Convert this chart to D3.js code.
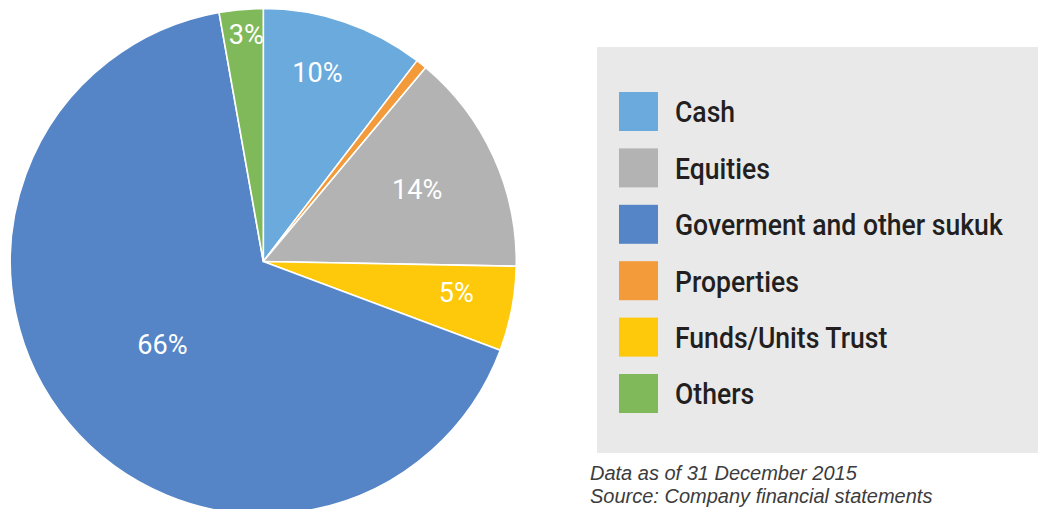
<!DOCTYPE html>
<html>
<head>
<meta charset="utf-8">
<script src="https://cdn.jsdelivr.net/npm/d3@7"></script>
<style>
  html, body { margin: 0; padding: 0; background: #ffffff; }
  svg { display: block; }
</style>
</head>
<body>
<svg id="chart" width="1038" height="509"></svg>
<script>
// ---- data ----
const sliceNames = ["Cash", "Properties", "Equities", "Funds/Units Trust", "Goverment and other sukuk", "Others"];
const sliceValues = [10.4, 0.7, 14.2, 5.4, 66.5, 2.8];
const sliceLabels = ["10%", "", "14%", "5%", "66%", "3%"];
const sliceColors = ["#6aaadd", "#f39a3b", "#b3b3b3", "#fdc90a", "#5585c7", "#80b95a"];
const legendNames = ["Cash", "Equities", "Goverment and other sukuk", "Properties", "Funds/Units Trust", "Others"];
const footnotes = ["Data as of 31 December 2015", "Source: Company financial statements"];

// ---- layout ----
const labelRadiusFrac = [0.78, 0, 0.672, 0.772, 0.516, 0.904];
const labelAngleShift = [-2.8, 0, -0.7, -1.8, 0.4, 0.8]; // degrees
const cx = 263.3, cy = 261.5, R = 253;
const condensed = "Roboto, 'Liberation Sans', sans-serif";
const legendSqueeze = 0.886;
const labelSqueeze = 0.97;

const svg = d3.select("#chart");
const g = svg.append("g").attr("transform", `translate(${cx},${cy})`);

const pie = d3.pie().sort(null).value(d => d)(sliceValues);
const arc = d3.arc().innerRadius(0).outerRadius(R);

g.selectAll("path.slice").data(pie).enter().append("path")
  .attr("class", "slice")
  .attr("d", arc)
  .attr("fill", (d, i) => sliceColors[i])
  .attr("stroke", "#ffffff")
  .attr("stroke-width", 1.6)
  .attr("stroke-linejoin", "round");

g.selectAll("text.lbl").data(pie).enter().append("text")
  .attr("class", "lbl")
  .attr("transform", (d, i) => {
    const r = R * labelRadiusFrac[i];
    const a = (d.startAngle + d.endAngle) / 2 + labelAngleShift[i] * Math.PI / 180;
    const x = r * Math.sin(a), y = -r * Math.cos(a);
    return `translate(${x},${y}) scale(${labelSqueeze},1)`;
  })
  .attr("text-anchor", "middle")
  .attr("dy", "0.36em")
  .attr("fill", "#ffffff")
  .style("font-family", condensed)
  .style("font-size", "28px")
  .text((d, i) => sliceLabels[i]);

// legend box
const lx = 597, ly = 47, lw = 441, lh = 406;
svg.append("rect").attr("x", lx).attr("y", ly).attr("width", lw).attr("height", lh).attr("fill", "#e9e9e9");

const ly0 = 92, step = 56.4, sw = 39;
const lg = svg.append("g");
legendNames.forEach((name, i) => {
  const idx = sliceNames.indexOf(name);
  lg.append("rect")
    .attr("x", 619).attr("y", ly0 + i * step)
    .attr("width", sw).attr("height", sw)
    .attr("fill", sliceColors[idx]);
  lg.append("text")
    .attr("transform", `translate(675,${ly0 + i * step + sw / 2}) scale(${legendSqueeze},1)`)
    .attr("dy", "0.36em")
    .attr("fill", "#231f20")
    .style("font-family", condensed)
    .style("font-weight", 500)
    .style("font-size", "30px")
    .text(name);
});

// footnotes
footnotes.forEach((t, i) => {
  svg.append("text")
    .attr("x", 590).attr("y", 480 + i * 23)
    .attr("fill", "#3c3c3c")
    .style("font-family", "'Liberation Sans', Arial, sans-serif")
    .style("font-style", "italic")
    .style("font-size", "20px")
    .text(t);
});
</script>
</body>
</html>
